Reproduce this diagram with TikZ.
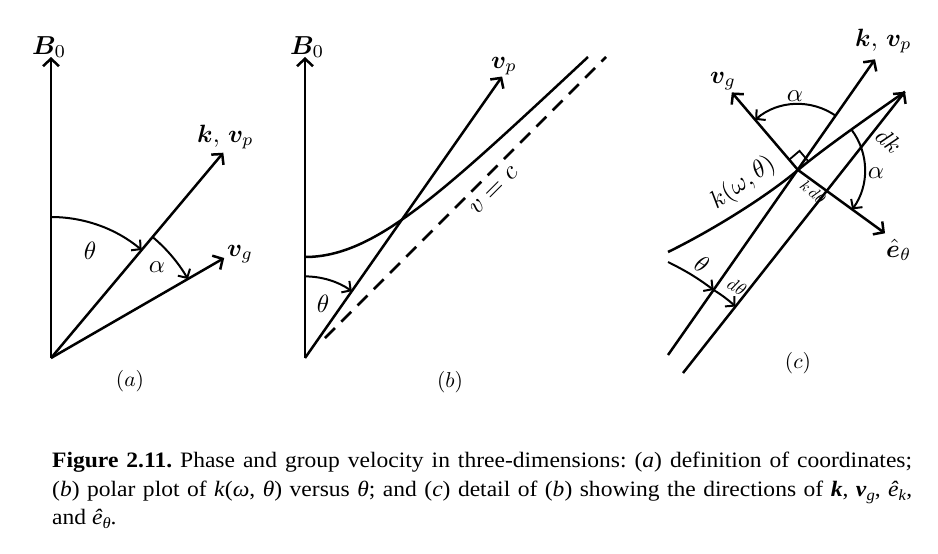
\RequirePackage{fix-cm}
\documentclass[tikz,border=0pt]{standalone}
\usepackage{graphicx}
\usepackage{fontspec}
\usepackage{bm}
\usetikzlibrary{arrows.meta}
\newfontfamily\capfont{Liberation Serif}
\newcommand\capsub[1]{\raisebox{-0.4ex}{\fontsize{15.5}{15.5}\selectfont #1}}
\newcommand\labtxt[2][2.5]{\scalebox{#1}{#2}}
\newcommand\capline[1]{\scalebox{1.07}[1]{\makebox[803.7pt][s]{#1}}}
\begin{document}
\frenchspacing
\begin{tikzpicture}[x=1pt,y=-1pt,
  vecarrow/.style={line width=2.5pt,-{Straight Barb[length=7.5pt,width=16pt]}},
  plainline/.style={line width=2.5pt},
  arcarrow/.style={line width=2pt,-{Straight Barb[length=6.5pt,width=14pt]}},
  lbl/.style={inner sep=0pt,font=\fontsize{10}{12}\selectfont},
  caption/.style={inner sep=0pt,anchor=base west,font=\capfont\fontsize{22}{25}\selectfont}]
\fill[white] (0,0) rectangle (938,554);
\useasboundingbox (0,0) rectangle (938,554);

% ---------- panel (a)
\coordinate (Oa) at (51,358);
\coordinate (Ba) at (51,57);
\coordinate (Ka) at (223.3,152.7);
\coordinate (Ga) at (224.2,258);
\coordinate (Tha) at (51,217);
\coordinate (Ala) at (152.6,237);
\draw[vecarrow] (Oa) -- (Ba);
\draw[vecarrow] (Oa) -- (Ka);
\draw[vecarrow] (Oa) -- (Ga);
\draw[arcarrow] (Tha) arc[start angle=-90,end angle=-50,radius=141];
\draw[arcarrow] (Ala) arc[start angle=-50,end angle=-30,radius=158];
\node[lbl,anchor=base west] (labBa) at (32,54) {\labtxt[2.6]{$\bm{B}_0$}};
\node[lbl,anchor=base west] (labKa) at (197,142) {\labtxt{$\bm{k},\,\bm{v}_p$}};
\node[lbl,anchor=base west] (labGa) at (227,256) {\labtxt{$\bm{v}_g$}};
\node[lbl] (labTha) at (90,251) {\labtxt{$\theta$}};
\node[lbl] (labAla) at (157,267) {\labtxt{$\alpha$}};
\node[lbl] (capa) at (130,381) {\labtxt[2.15]{$(a)$}};

% ---------- panel (b)
\coordinate (Ob) at (305,358);
\coordinate (Bb) at (305,57);
\coordinate (Pb) at (502.1,76.5);
\coordinate (D1) at (325,338);
\coordinate (D2) at (606,57);
\coordinate (Sb) at (305,257);
\coordinate (Eb) at (588,57);
\coordinate (Thb) at (305,276.4);
\draw[vecarrow] (Ob) -- (Bb);
\draw[vecarrow] (Ob) -- (Pb);
\draw[plainline,dash pattern=on 14pt off 9pt] (D1) -- (D2);
\draw[plainline] (Sb) .. controls (375,257) and (442,193) .. (Eb);
\draw[arcarrow] (Thb) arc[start angle=-90,end angle=-55,radius=81.6];
\node[lbl,anchor=base west] (labBb) at (290,54) {\labtxt[2.6]{$\bm{B}_0$}};
\node[lbl,anchor=base west] (labPb) at (491,68) {\labtxt{$\bm{v}_p$}};
\node[lbl] (labThb) at (323,304) {\labtxt{$\theta$}};
\node[lbl,rotate=45] (labVc) at (494,191) {\labtxt[2.6]{$v=c$}};
\node[lbl] (capb) at (450,382) {\labtxt[2.15]{$(b)$}};

% ---------- panel (c)
\coordinate (C) at (798,170);
\coordinate (A1) at (668,355);
\coordinate (T1) at (875,59.3);
\coordinate (A2) at (683,373);
\coordinate (T2) at (905,91.7);
\coordinate (K0) at (668,252);
\coordinate (Gc) at (731.8,92.4);
\coordinate (Ec) at (885,233.3);
\coordinate (R1) at (789.2,159.7);
\coordinate (R2) at (799.5,150.9);
\coordinate (R3) at (808.3,161.2);
\coordinate (Alc1) at (835.9,115.9);
\coordinate (Alc2) at (851.5,129.7);
\coordinate (Q0) at (668,262);
\coordinate (Q1) at (713.7,290);
\coordinate (Q2) at (735.5,306.5);
\draw[vecarrow] (A1) -- (T1);
\draw[vecarrow] (A2) -- (T2);
\draw[plainline] (K0) .. controls (708.4,232.3) and (763.5,198.9) .. (C)
   .. controls (824.8,147.5) and (876.3,111.8) .. (T2);
\draw[vecarrow] (C) -- (Gc);
\draw[vecarrow] (C) -- (Ec);
\draw[line width=1.8pt] (R1) -- (R2) -- (R3);
\draw[arcarrow] (Alc1) arc[start angle=-55,end angle=-130.5,radius=66];
\draw[arcarrow] (Alc2) arc[start angle=-37,end angle=36,radius=67];
\draw[arcarrow] (Q0) to[bend left=5] (Q1);
\draw[arcarrow] (Q1) to[bend left=5] (Q2);
\node[lbl,anchor=base west] (labKc) at (855,46) {\labtxt{$\bm{k},\,\bm{v}_p$}};
\node[lbl,anchor=base west] (labGc) at (710,83) {\labtxt{$\bm{v}_g$}};
\node[lbl,anchor=base west] (labEc) at (886,257) {\labtxt{$\hat{\bm{e}}_\theta$}};
\node[lbl] (labAlc1) at (795,96) {\labtxt{$\alpha$}};
\node[lbl] (labAlc2) at (876,173) {\labtxt{$\alpha$}};
\node[lbl,rotate=-42] (labDk) at (889,141) {\labtxt[2.4]{$dk$}};
\node[lbl,rotate=35] (labKw) at (743,183) {\labtxt{$k(\omega,\theta)$}};
\node[lbl,rotate=-40] (labKdt) at (813,192) {\labtxt[1.6]{$k\,d\theta$}};
\node[lbl,rotate=-30] (labThc) at (702,264) {\labtxt[2.4]{$\theta$}};
\node[lbl,rotate=-30] (labDth) at (737,287) {\labtxt[1.8]{$d\theta$}};
\node[lbl] (capc) at (798,363) {\labtxt[2.15]{$(c)$}};

% ---------- caption
\node[caption] (cap1) at (52,467) {\capline{\textbf{Figure 2.11.} Phase and group velocity in three-dimensions: (\textit{a}) definition of coordinates;}};
\node[caption] (cap2) at (52,496) {\capline{(\textit{b}) polar plot of \textit{k}(\textit{ω}, \textit{θ}) versus \textit{θ}; and (\textit{c}) detail of (\textit{b}) showing the directions of \textbf{\textit{k}}, \textbf{\textit{v}}\capsub{\textit{g}}, \textit{ê}\capsub{\textit{k}},}};
\node[caption] (cap3) at (52,524) {\scalebox{1.07}[1]{and \textit{ê}\capsub{\textit{θ}}.}};
\end{tikzpicture}
\end{document}
